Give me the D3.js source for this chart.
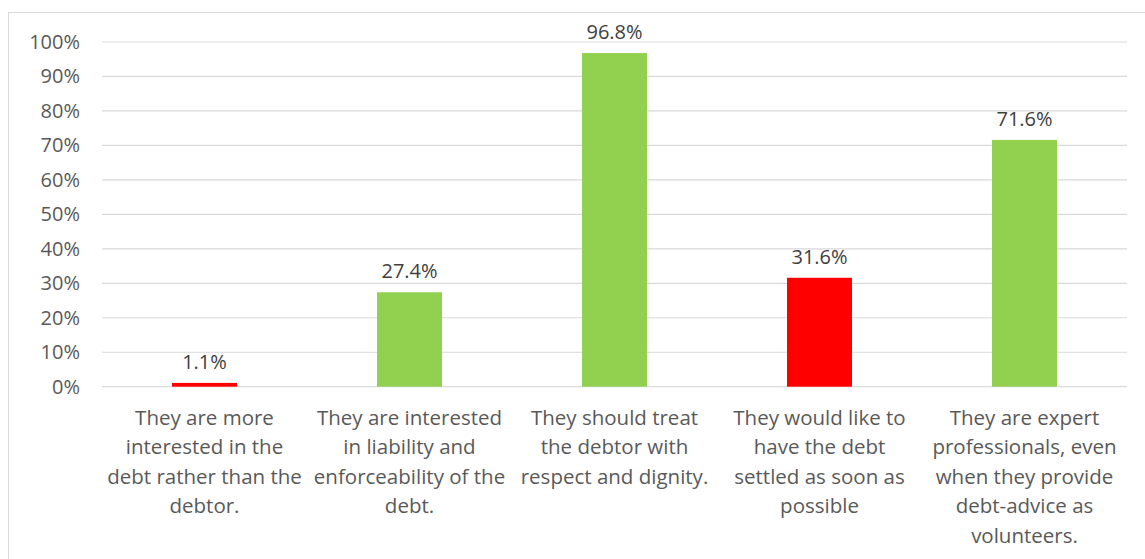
<!DOCTYPE html>
<html>
<head>
<meta charset="utf-8">
<script src="https://cdn.jsdelivr.net/npm/d3@7"></script>
<style>
  html, body { margin: 0; padding: 0; background: #fff; }
  svg { display: block; }
  text { font-family: "Open Sans", "Liberation Sans", Arial, sans-serif; }
</style>
</head>
<body>
<svg id="chart" width="1145" height="559"></svg>
<script>
// ---- data ----
const categories = [
  "They are more interested in the debt rather than the debtor.",
  "They are interested in liability and enforceability of the debt.",
  "They should treat the debtor with respect and dignity.",
  "They would like to have the debt settled as soon as possible",
  "They are expert professionals, even when they provide debt-advice as volunteers."
];
const categoryLines = [
  ["They are more", "interested in the", "debt rather than the", "debtor."],
  ["They are interested", "in liability and", "enforceability of the", "debt."],
  ["They should treat", "the debtor with", "respect and dignity."],
  ["They would like to", "have the debt", "settled as soon as", "possible"],
  ["They are expert", "professionals, even", "when they provide", "debt-advice as", "volunteers."]
];
const values = [1.1, 27.4, 96.8, 31.6, 71.6];
const barColors = ["#ff0000", "#92d050", "#92d050", "#ff0000", "#92d050"];
const yTicks = [0, 10, 20, 30, 40, 50, 60, 70, 80, 90, 100];

// ---- layout ----
const svg = d3.select("#chart");
const plotLeft = 102, plotRight = 1127, plotTop = 42, plotBottom = 386.7;
const FONT = '"Open Sans", "Liberation Sans", Arial, sans-serif';

svg.append("rect")
  .attr("x", 8.5).attr("y", 12.5)
  .attr("width", 1145).attr("height", 560)
  .attr("fill", "none").attr("stroke", "#d9d9d9").attr("stroke-width", 1);

const x = d3.scaleBand().domain(categories).range([plotLeft, plotRight]).paddingInner(0.683).paddingOuter(0.3415);
const y = d3.scaleLinear().domain([0, 100]).range([plotBottom, plotTop]);

// gridlines
svg.append("g").selectAll("line").data(yTicks).join("line")
  .attr("x1", plotLeft).attr("x2", plotRight)
  .attr("y1", d => y(d)).attr("y2", d => y(d))
  .attr("stroke", "#d9d9d9").attr("stroke-width", 1.2);

// y axis labels
const yAxis = d3.axisLeft(y).tickValues(yTicks).tickFormat(d => d + "%").tickSize(0).tickPadding(0);
const gy = svg.append("g").attr("transform", `translate(${80},0)`).call(yAxis);
gy.select(".domain").remove();
gy.selectAll("text").attr("font-size", 20).attr("fill", "#595959")
  .attr("font-family", FONT);

// bars
svg.append("g").selectAll("rect").data(values).join("rect")
  .attr("x", (d, i) => x(categories[i]))
  .attr("width", x.bandwidth())
  .attr("y", d => y(d))
  .attr("height", d => y(0) - y(d))
  .attr("fill", (d, i) => barColors[i]);

// value labels
svg.append("g").selectAll("text").data(values).join("text")
  .attr("x", (d, i) => x(categories[i]) + x.bandwidth() / 2)
  .attr("y", d => y(d) - 14)
  .attr("text-anchor", "middle")
  .attr("font-size", 20)
  .attr("fill", "#404040")
  .text(d => d.toFixed(1) + "%");

// category labels
const xAxis = d3.axisBottom(x).tickSize(0).tickFormat("");
const gx = svg.append("g").attr("transform", `translate(0,${plotBottom})`).call(xAxis);
gx.select(".domain").remove();
gx.selectAll(".tick").each(function(d, i) {
  const t = d3.select(this).append("text")
    .attr("text-anchor", "middle")
    .attr("font-size", 20.5)
    .attr("font-family", FONT)
    .attr("fill", "#595959");
  categoryLines[i].forEach((line, j) => {
    t.append("tspan").attr("x", 0).attr("y", 38 + j * 29.6).text(line);
  });
});
</script>
</body>
</html>
